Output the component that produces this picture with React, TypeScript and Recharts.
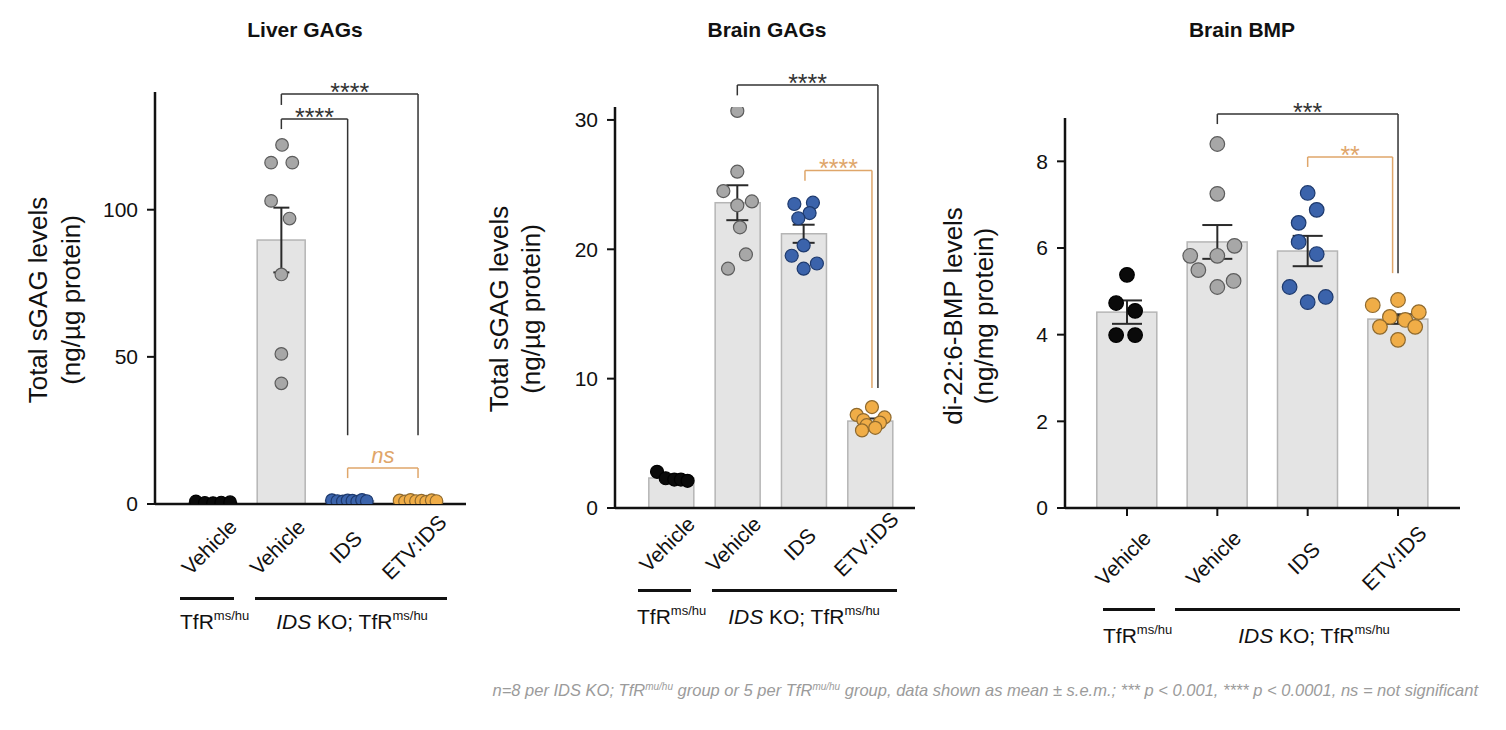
import React from 'react';
import { Bar, ComposedChart, ErrorBar, ReferenceLine, Scatter, XAxis, YAxis } from 'recharts';

const FONT = '"Liberation Sans", Arial, Helvetica, sans-serif';
const INK = '#111111';
const TAN = '#dfa66a';

const groups = ['Vehicle', 'Vehicle', 'IDS', 'ETV:IDS'];

// Liver GAGs (ng/µg protein)
const liverWT = [0.9, 0.4, 0.3, 0.5, 0.6];
const liverKO = [122, 116, 116, 103, 97, 78, 51, 41];
const liverIDS = [1.3, 1.0, 0.9, 1.2, 1.1, 0.8, 1.4, 1.0];
const liverETV = [1.2, 0.9, 1.4, 1.0, 1.1, 0.8, 1.3, 1.0];
const liverMean = [0.5, 89.7, 1.1, 1.1];
const liverSem = [0.1, 11.0, 0.1, 0.1];
const liverTicks = [0, 50, 100];

// Brain GAGs (ng/µg protein)
const brainWT = [2.8, 2.3, 2.2, 2.2, 2.1];
const brainKO = [30.7, 26.0, 24.5, 23.7, 23.4, 21.7, 19.6, 18.5];
const brainIDS = [23.5, 23.6, 22.8, 22.4, 20.3, 19.5, 18.9, 18.5];
const brainETV = [7.8, 7.2, 7.0, 6.8, 6.6, 6.4, 6.2, 6.0];
const brainMean = [2.32, 23.6, 21.2, 6.72];
const brainSem = [0.12, 1.35, 0.7, 0.2];
const brainTicks = [0, 10, 20, 30];

// Brain BMP (ng/mg protein)
const bmpWT = [5.38, 4.73, 4.55, 3.99, 3.99];
const bmpKO = [8.4, 7.25, 6.05, 5.82, 5.82, 5.49, 5.24, 5.1];
const bmpIDS = [7.27, 6.88, 6.58, 6.14, 5.86, 5.1, 4.87, 4.75];
const bmpETV = [4.8, 4.68, 4.52, 4.41, 4.34, 4.18, 4.18, 3.88];
const bmpMean = [4.52, 6.14, 5.93, 4.36];
const bmpSem = [0.27, 0.39, 0.35, 0.11];
const bmpTicks = [0, 2, 4, 6, 8];

// horizontal spread of the dots, in category units
const liverJitter = [
  [-0.25, -0.12, 0, 0.12, 0.25],
  [0.01, -0.15, 0.16, -0.15, 0.12, 0, 0, 0],
  [-0.26, -0.18, -0.1, -0.03, 0.04, 0.11, 0.18, 0.25],
  [-0.27, -0.19, -0.11, -0.03, 0.05, 0.12, 0.2, 0.27],
];
const brainJitter = [
  [-0.21, -0.08, 0.05, 0.15, 0.25],
  [0, 0, -0.21, 0.22, 0, 0.04, 0.13, -0.14],
  [-0.14, 0.14, 0.09, -0.08, 0, -0.18, 0.2, 0],
  [0.03, -0.2, 0.22, -0.1, 0.15, -0.05, 0.08, -0.12],
];
const bmpJitter = [
  [0, -0.12, 0.09, -0.12, 0.09],
  [0, 0, 0.19, -0.3, 0, -0.21, 0.18, 0],
  [0, 0.1, -0.1, -0.1, 0.1, -0.2, 0.2, 0],
  [0, -0.28, 0.23, -0.09, 0.08, -0.2, 0.19, 0],
];

// significance brackets: from/to group, bar height, leg ends
const liverBrackets = [
  { from: 1, to: 3, y: 139.3, leftEnd: 135.6, rightEnd: 23.4, text: '****', color: '#333' },
  { from: 1, to: 1.97, y: 130.8, leftEnd: 127.4, rightEnd: 23.4, text: '****', color: '#333' },
  { from: 1.97, to: 3, y: 12.2, leftEnd: 8.8, rightEnd: 8.8, text: 'ns', color: TAN },
];
const brainBrackets = [
  { from: 1, to: 3.12, y: 32.7, leftEnd: 31.9, rightEnd: 9.27, text: '****', color: '#333' },
  { from: 2.02, to: 3.03, y: 26.1, leftEnd: 25.3, rightEnd: 9.27, text: '****', color: TAN },
];
const bmpBrackets = [
  { from: 1, to: 3, y: 9.09, leftEnd: 8.86, rightEnd: 5.42, text: '***', color: '#333' },
  { from: 2, to: 2.94, y: 8.1, leftEnd: 7.87, rightEnd: 5.42, text: '**', color: TAN },
];

const dotStyles = [
  { fill: '#0a0a0a', stroke: '#000000' },
  { fill: '#a7a7a7', stroke: '#5c5c5c' },
  { fill: '#3b63ab', stroke: '#1e3a6e' },
  { fill: '#f0ad47', stroke: '#8f6a2e' },
];

type Bracket = { from: number; to: number; y: number; leftEnd: number; rightEnd: number; text: string; color: string };

interface PanelProps {
  left: number;
  width: number;
  margin: { top: number; right: number; bottom: number; left: number };
  xDomain: [number, number];
  yDomain: [number, number];
  yTicks: number[];
  means: number[];
  sems: number[];
  values: number[][];
  jitter: number[][];
  brackets: Bracket[];
  barSize: number;
  capWidth: number;
  dotR: number;
  xTickLines: boolean;
  labelDy: number;
  yTitle: [string, string];
  yTitleX: [number, number];
  yTitleCenter: number;
}

function renderBracket(b: Bracket, key: string) {
  const isNs = b.text === 'ns';
  const labelFn = (p: any) => {
    const vb = p.viewBox || {};
    return (
      <text
        x={vb.x + vb.width / 2}
        y={vb.y + (isNs ? -5 : 7)}
        textAnchor="middle"
        fill={b.color}
        fontSize={isNs ? 22 : 25}
        fontStyle={isNs ? 'italic' : 'normal'}
        fontFamily={FONT}
      >
        {b.text}
      </text>
    );
  };
  const common = { stroke: b.color, strokeWidth: 1.5, ifOverflow: 'visible' as const };
  return [
    <ReferenceLine key={key + 'h'} {...common} segment={[{ x: b.from, y: b.y }, { x: b.to, y: b.y }]} label={labelFn} />,
    <ReferenceLine key={key + 'l'} {...common} segment={[{ x: b.from, y: b.y }, { x: b.from, y: b.leftEnd }]} />,
    <ReferenceLine key={key + 'r'} {...common} segment={[{ x: b.to, y: b.y }, { x: b.to, y: b.rightEnd }]} />,
  ];
}

function Panel(p: PanelProps) {
  const bars = p.means.map((m, i) => ({ x: i, mean: m, sem: p.sems[i] }));
  const pointSets = p.values.map((vals, g) => vals.map((v, i) => ({ x: g + p.jitter[g][i], y: v })));

  const tick = (t: any) => {
    const cx = t.x - 4;
    const cy = t.y + p.labelDy;
    return (
      <text
        x={cx}
        y={cy}
        transform={`rotate(-45 ${cx} ${cy})`}
        textAnchor="middle"
        dominantBaseline="central"
        fontSize={21}
        fontFamily={FONT}
        fill={INK}
      >
        {groups[t.payload.value]}
      </text>
    );
  };

  const yTitle = () => (
    <g>
      {p.yTitle.map((line, i) => (
        <text
          key={i}
          x={-p.yTitleCenter}
          y={p.yTitleX[i]}
          transform="rotate(-90)"
          textAnchor="middle"
          fontSize={26}
          fontFamily={FONT}
          fill={INK}
        >
          {line}
        </text>
      ))}
    </g>
  );

  const barShape = (s: any) => {
    const cx = s.x + s.width / 2;
    return (
      <rect
        x={cx - p.barSize / 2}
        y={s.y}
        width={p.barSize}
        height={Math.max(s.height, 0)}
        fill="#e4e4e4"
        stroke="#b5b5b5"
        strokeWidth={1.5}
      />
    );
  };

  return (
    <div style={{ position: 'absolute', left: p.left, top: 0 }}>
      <ComposedChart width={p.width} height={660} data={bars} margin={p.margin}>
        <XAxis
          xAxisId="bars"
          type="number"
          dataKey="x"
          domain={p.xDomain}
          ticks={[0, 1, 2, 3]}
          allowDataOverflow
          hide
        />
        <XAxis
          type="number"
          dataKey="x"
          domain={p.xDomain}
          ticks={[0, 1, 2, 3]}
          interval={0}
          allowDataOverflow
          height={80}
          axisLine={{ stroke: INK, strokeWidth: 2.5 }}
          tickLine={p.xTickLines ? { stroke: INK, strokeWidth: 2 } : false}
          tickSize={8}
          tick={tick}
        />
        <YAxis
          type="number"
          domain={p.yDomain}
          ticks={p.yTicks}
          allowDataOverflow
          width={70}
          axisLine={{ stroke: INK, strokeWidth: 2.5 }}
          tickLine={{ stroke: INK, strokeWidth: 2 }}
          tickSize={8}
          tickMargin={9}
          tick={{ fontSize: 21, fill: INK, fontFamily: FONT }}
          label={yTitle}
        />
        <Bar xAxisId="bars" dataKey="mean" barSize={p.barSize} isAnimationActive={false} shape={barShape} />
        {p.brackets.flatMap((b, i) => renderBracket(b, 'br' + i))}
        {pointSets.map((pts, g) => (
          <Scatter
            key={'pts' + g}
            data={pts}
            dataKey="y"
            isAnimationActive={false}
            shape={(s: any) => (
              <circle cx={s.cx} cy={s.cy} r={p.dotR} fill={dotStyles[g].fill} stroke={dotStyles[g].stroke} strokeWidth={1.2} />
            )}
          />
        ))}
        <Scatter data={bars} dataKey="mean" isAnimationActive={false} shape={() => <g />}>
          <ErrorBar dataKey="sem" direction="y" width={p.capWidth} stroke="#2a2a2a" strokeWidth={2} />
        </Scatter>
      </ComposedChart>
    </div>
  );
}

const sup: React.CSSProperties = { fontSize: 13, position: 'relative', top: -9 };

function GroupNote({ y, wtLine, koLine, textY, wtX, koCenter }: {
  y: number; wtLine: [number, number]; koLine: [number, number]; textY: number; wtX: number; koCenter: number;
}) {
  const line = (a: [number, number]) => (
    <div style={{ position: 'absolute', left: a[0], top: y - 1.5, width: a[1] - a[0], height: 3, background: INK }} />
  );
  const txt: React.CSSProperties = { position: 'absolute', top: textY - 12, fontSize: 21, lineHeight: '24px', fontFamily: FONT, color: INK, whiteSpace: 'nowrap' };
  return (
    <>
      {line(wtLine)}
      {line(koLine)}
      <div style={{ ...txt, left: wtX }}>TfR<span style={sup}>ms/hu</span></div>
      <div style={{ ...txt, left: koCenter, transform: 'translateX(-50%)' }}>
        <i>IDS</i> KO; TfR<span style={sup}>ms/hu</span>
      </div>
    </>
  );
}

function Title({ text, center }: { text: string; center: number }) {
  return (
    <div style={{ position: 'absolute', left: center, top: 17, transform: 'translateX(-50%)', fontSize: 21, lineHeight: '26px', fontWeight: 700, fontFamily: FONT, color: INK, whiteSpace: 'nowrap' }}>
      {text}
    </div>
  );
}

export default function App() {
  return (
    <div style={{ position: 'absolute', left: 0, top: 0, width: 1506, height: 730, background: '#fff', overflow: 'hidden' }}>
      <Panel
        left={0}
        width={480}
        margin={{ top: 92, right: 14, bottom: 76, left: 85 }}
        xDomain={[-0.849, 3.702]}
        yDomain={[0, 140]}
        yTicks={liverTicks}
        means={liverMean}
        sems={liverSem}
        values={[liverWT, liverKO, liverIDS, liverETV]}
        jitter={liverJitter}
        brackets={liverBrackets}
        barSize={48}
        capWidth={8}
        dotR={6.3}
        xTickLines={false}
        labelDy={33}
        yTitle={['Total sGAG levels', '(ng/µg protein)']}
        yTitleX={[47, 80]}
        yTitleCenter={300}
      />
      <Panel
        left={470}
        width={470}
        margin={{ top: 107, right: 25, bottom: 72, left: 75 }}
        xDomain={[-0.844, 3.679]}
        yDomain={[0, 31]}
        yTicks={brainTicks}
        means={brainMean}
        sems={brainSem}
        values={[brainWT, brainKO, brainIDS, brainETV]}
        jitter={brainJitter}
        brackets={brainBrackets}
        barSize={45}
        capWidth={11}
        dotR={6.5}
        xTickLines={false}
        labelDy={26}
        yTitle={['Total sGAG levels', '(ng/µg protein)']}
        yTitleX={[38, 70]}
        yTitleCenter={309}
      />
      <Panel
        left={920}
        width={586}
        margin={{ top: 118, right: 46, bottom: 72, left: 75 }}
        xDomain={[-0.686, 3.686]}
        yDomain={[0, 9]}
        yTicks={bmpTicks}
        means={bmpMean}
        sems={bmpSem}
        values={[bmpWT, bmpKO, bmpIDS, bmpETV]}
        jitter={bmpJitter}
        brackets={bmpBrackets}
        barSize={60}
        capWidth={15}
        dotR={7.3}
        xTickLines={true}
        labelDy={40}
        yTitle={['di-22:6-BMP levels', '(ng/mg protein)']}
        yTitleX={[42, 73]}
        yTitleCenter={316}
      />

      <Title text="Liver GAGs" center={305} />
      <Title text="Brain GAGs" center={767} />
      <Title text="Brain BMP" center={1242} />

      <GroupNote y={598} wtLine={[180, 234]} koLine={[255, 447]} textY={622} wtX={180} koCenter={352} />
      <GroupNote y={590} wtLine={[638, 691]} koLine={[712, 897]} textY={617} wtX={637} koCenter={804} />
      <GroupNote y={609} wtLine={[1103, 1155]} koLine={[1175, 1460]} textY={636} wtX={1103} koCenter={1314} />

      <div style={{ position: 'absolute', right: 28, top: 680, fontSize: 16.5, lineHeight: '20px', fontStyle: 'italic', fontFamily: FONT, color: '#9b9b9b', whiteSpace: 'nowrap' }}>
        n=8 per IDS KO; TfR<span style={{ fontSize: 10, position: 'relative', top: -6 }}>mu/hu</span> group or 5 per TfR
        <span style={{ fontSize: 10, position: 'relative', top: -6 }}>mu/hu</span> group, data shown as mean ± s.e.m.; *** p &lt; 0.001, **** p &lt; 0.0001, ns = not significant
      </div>
    </div>
  );
}
